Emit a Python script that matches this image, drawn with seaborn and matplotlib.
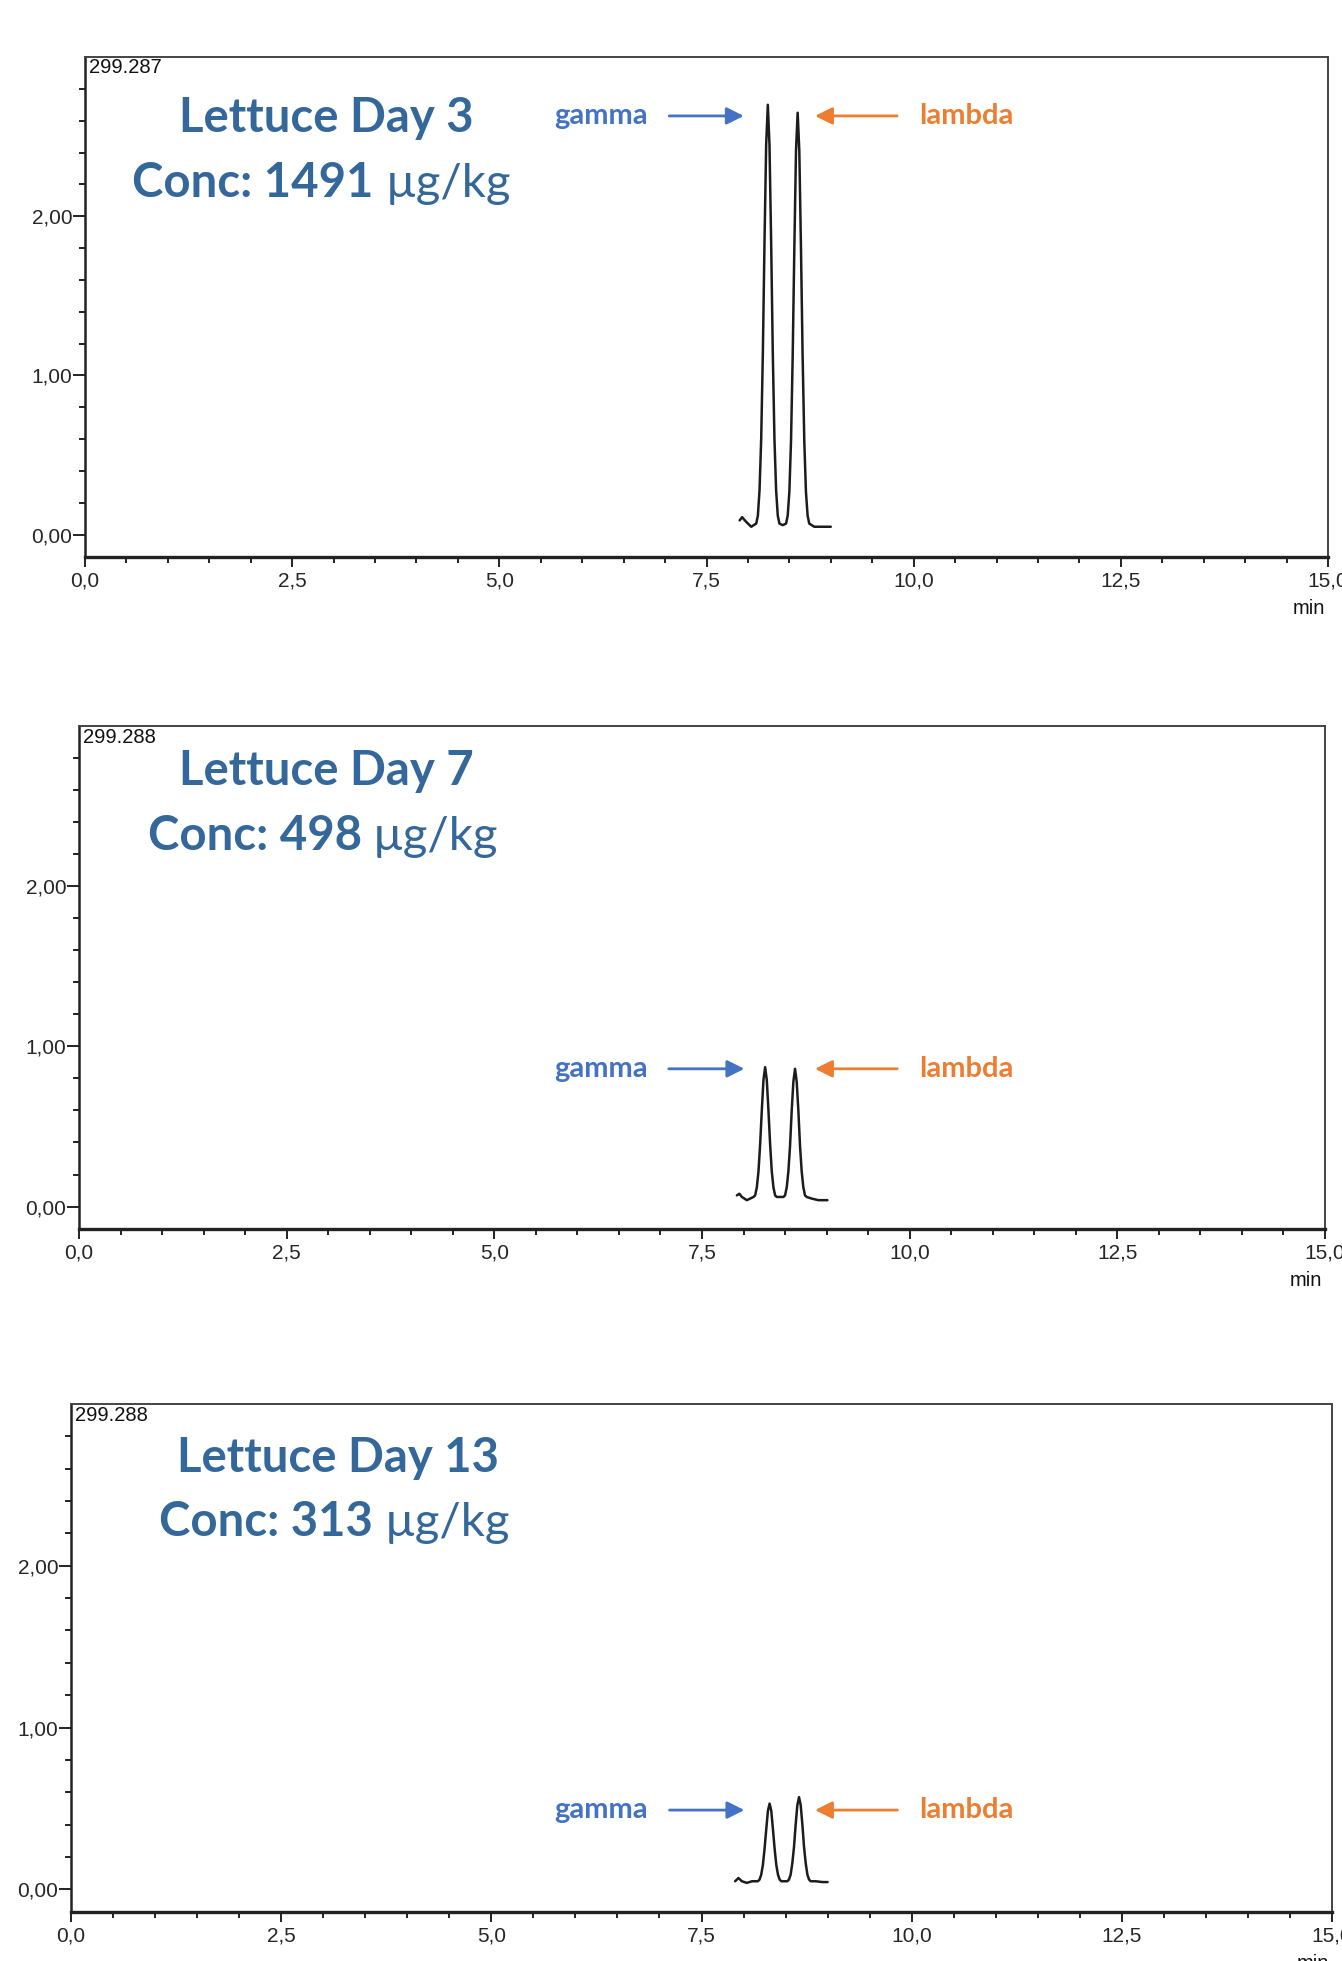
import numpy as np
import pandas as pd
import matplotlib
matplotlib.use("Agg")
import matplotlib.pyplot as plt
from matplotlib.ticker import FixedLocator, FuncFormatter, MultipleLocator
import seaborn as sns

# ---------------- data ----------------
day3_time = [7.90, 7.93, 7.98, 8.04, 8.10, 8.12, 8.14, 8.16, 8.18, 8.20, 8.22, 8.24,
             8.26, 8.28, 8.30, 8.32, 8.34, 8.36, 8.38, 8.42, 8.46, 8.48, 8.50, 8.52,
             8.54, 8.56, 8.58, 8.60, 8.62, 8.64, 8.66, 8.68, 8.70, 8.72, 8.74, 8.80,
             8.90, 9.00]
day3_signal = [0.09, 0.11, 0.08, 0.05, 0.07, 0.12, 0.28, 0.60, 1.14, 1.84, 2.45, 2.70,
               2.45, 1.84, 1.14, 0.60, 0.28, 0.12, 0.07, 0.06, 0.07, 0.12, 0.27, 0.59,
               1.12, 1.80, 2.41, 2.65, 2.41, 1.80, 1.12, 0.59, 0.27, 0.12, 0.07, 0.05,
               0.05, 0.05]

day7_time = [7.92, 7.95, 7.98, 8.04, 8.08, 8.12, 8.14, 8.16, 8.18, 8.20, 8.22, 8.24,
             8.26, 8.28, 8.30, 8.32, 8.34, 8.36, 8.38, 8.40, 8.44, 8.48, 8.50, 8.52,
             8.54, 8.56, 8.58, 8.60, 8.62, 8.64, 8.66, 8.68, 8.70, 8.72, 8.74, 8.76,
             8.82, 8.90, 9.01]
day7_signal = [0.07, 0.08, 0.06, 0.04, 0.05, 0.06, 0.07, 0.12, 0.22, 0.39, 0.60, 0.79,
               0.87, 0.79, 0.60, 0.39, 0.22, 0.12, 0.07, 0.06, 0.06, 0.06, 0.07, 0.12,
               0.22, 0.38, 0.60, 0.78, 0.86, 0.78, 0.60, 0.38, 0.22, 0.12, 0.07, 0.06,
               0.05, 0.04, 0.04]

day13_time = [7.90, 7.94, 7.98, 8.04, 8.10, 8.17, 8.19, 8.21, 8.23, 8.25, 8.27, 8.29,
              8.31, 8.33, 8.35, 8.37, 8.39, 8.41, 8.43, 8.45, 8.48, 8.52, 8.54, 8.56,
              8.58, 8.60, 8.62, 8.64, 8.66, 8.68, 8.70, 8.72, 8.74, 8.76, 8.78, 8.80,
              8.86, 8.94, 9.00]
day13_signal = [0.05, 0.07, 0.05, 0.04, 0.05, 0.05, 0.06, 0.09, 0.15, 0.25, 0.37, 0.485,
                0.53, 0.485, 0.37, 0.25, 0.15, 0.09, 0.06, 0.05, 0.05, 0.05, 0.06, 0.09,
                0.16, 0.26, 0.40, 0.52, 0.57, 0.52, 0.40, 0.26, 0.16, 0.09, 0.06, 0.05,
                0.05, 0.045, 0.045]

sample_titles = ["Lettuce Day 3", "Lettuce Day 7", "Lettuce Day 13"]
conc_values = ["1491", "498", "313"]
conc_unit = "µg/kg"
header_labels = ["299.287", "299.288", "299.288"]
peak_labels = ["gamma", "lambda"]
arrow_levels = [2.63, 0.86, 0.49]
y_major_ticks = [0.0, 1.0, 2.0]
y_minor_ticks = [0.2, 0.4, 0.6, 0.8, 1.2, 1.4, 1.6, 1.8, 2.2, 2.4, 2.6, 2.8]
x_range = (0, 15)
y_range = (-0.14, 3.0)

traces = [(day3_time, day3_signal), (day7_time, day7_signal), (day13_time, day13_signal)]

# ---------------- styling / layout ----------------
sns.set_style("ticks")
plt.rcParams['font.family'] = ['Liberation Sans', 'DejaVu Sans']

W, H = 1342, 1961
fig = plt.figure(figsize=(W / 100, H / 100), dpi=100)

def fx(px):
    return px / W

def fy(py):
    return 1 - py / H

# axes boxes in pixels: left, top, right, bottom
boxes = [(85, 57, 1328, 557), (79, 726, 1325, 1229), (71, 1404, 1332, 1912)]
# title layout in pixels: (title center x, title baseline, bold right, unit left, line2 baseline)
title_pos = [(326, 132, 373, 386, 197), (326, 785, 362, 373, 850), (338, 1472, 373, 385, 1536)]
# annotation x positions in data units per panel
ann_x = [(6.23, 7.05, 7.95, 9.80, 8.81, 10.63),
         (6.29, 7.10, 8.01, 9.85, 8.86, 10.68),
         (6.31, 7.12, 8.01, 9.83, 8.85, 10.65)]

title_color = '#34679A'
gamma_color = '#4472C4'
lambda_color = '#ED7D31'
title_font = ['Lato', 'DejaVu Sans']

for i, ((l, t, r, b), (tx, ty)) in enumerate(zip(boxes, traces)):
    ax = fig.add_axes([fx(l), fy(b), fx(r) - fx(l), (b - t) / H])
    df = pd.DataFrame({'time': tx, 'signal': ty})
    sns.lineplot(data=df, x='time', y='signal', ax=ax, color='#1c1c1c', lw=1.8,
                 sort=False, estimator=None)
    ax.set_xlim(*x_range)
    ax.set_ylim(*y_range)
    ax.set_xlabel('')
    ax.set_ylabel('')
    ax.xaxis.set_major_locator(MultipleLocator(2.5))
    ax.xaxis.set_minor_locator(MultipleLocator(0.5))
    ax.yaxis.set_major_locator(FixedLocator(y_major_ticks))
    ax.yaxis.set_minor_locator(FixedLocator(y_minor_ticks))
    ax.xaxis.set_major_formatter(FuncFormatter(lambda v, p: f"{v:.1f}".replace('.', ',')))
    ax.yaxis.set_major_formatter(FuncFormatter(lambda v, p: f"{v:.2f}".replace('.', ',')))
    ax.tick_params(axis='x', which='major', length=7.5, width=1.4, labelsize=15, pad=3,
                   direction='out', color='#222222')
    ax.tick_params(axis='x', which='minor', length=4.5, width=1.4, direction='out', color='#222222')
    ax.tick_params(axis='y', which='major', length=8.5, width=1.4, labelsize=15, pad=0.5,
                   direction='out', color='#222222')
    ax.tick_params(axis='y', which='minor', length=4.5, width=1.4, direction='out', color='#222222')
    for side in ['top', 'right']:
        ax.spines[side].set_visible(True)
        ax.spines[side].set_color('#444444')
        ax.spines[side].set_linewidth(1.4)
    ax.spines['left'].set_color('#222222')
    ax.spines['left'].set_linewidth(1.8)
    ax.spines['bottom'].set_color('#222222')
    ax.spines['bottom'].set_linewidth(2.4)

    # header label
    ax.text(0.003, 0.997, header_labels[i], transform=ax.transAxes, ha='left', va='top',
            fontsize=14.5, color='#111111')
    # min label
    ax.annotate('min', xy=(1, 0), xycoords='axes fraction', xytext=(-14, -37),
                textcoords='offset points', ha='center', va='center', fontsize=14.5,
                color='#111111', annotation_clip=False)

    # peak annotations
    gx, ga0, ga1, la0, la1, lx = ann_x[i]
    yv = arrow_levels[i]
    ax.text(gx, yv, peak_labels[0], color=gamma_color, fontsize=21, fontweight='bold',
            family=title_font, ha='center', va='center')
    ax.annotate('', xy=(ga1, yv), xytext=(ga0, yv),
                arrowprops=dict(arrowstyle='-|>', color=gamma_color, lw=2.0,
                                mutation_scale=26, shrinkA=0, shrinkB=0))
    ax.annotate('', xy=(la1, yv), xytext=(la0, yv),
                arrowprops=dict(arrowstyle='-|>', color=lambda_color, lw=2.0,
                                mutation_scale=26, shrinkA=0, shrinkB=0))
    ax.text(lx, yv, peak_labels[1], color=lambda_color, fontsize=21, fontweight='bold',
            family=title_font, ha='center', va='center')

    # titles
    cx, b1, br, ul, b2 = title_pos[i]
    fig.text(fx(cx), fy(b1), sample_titles[i], ha='center', va='baseline', fontsize=34,
             fontweight='bold', color=title_color, family=title_font)
    fig.text(fx(br), fy(b2), f"Conc: {conc_values[i]}", ha='right', va='baseline',
             fontsize=34, fontweight='bold', color=title_color, family=title_font)
    fig.text(fx(ul), fy(b2), conc_unit, ha='left', va='baseline', fontsize=34,
             fontweight='normal', color=title_color, family=title_font)

fig.savefig('out.png', dpi=100)
